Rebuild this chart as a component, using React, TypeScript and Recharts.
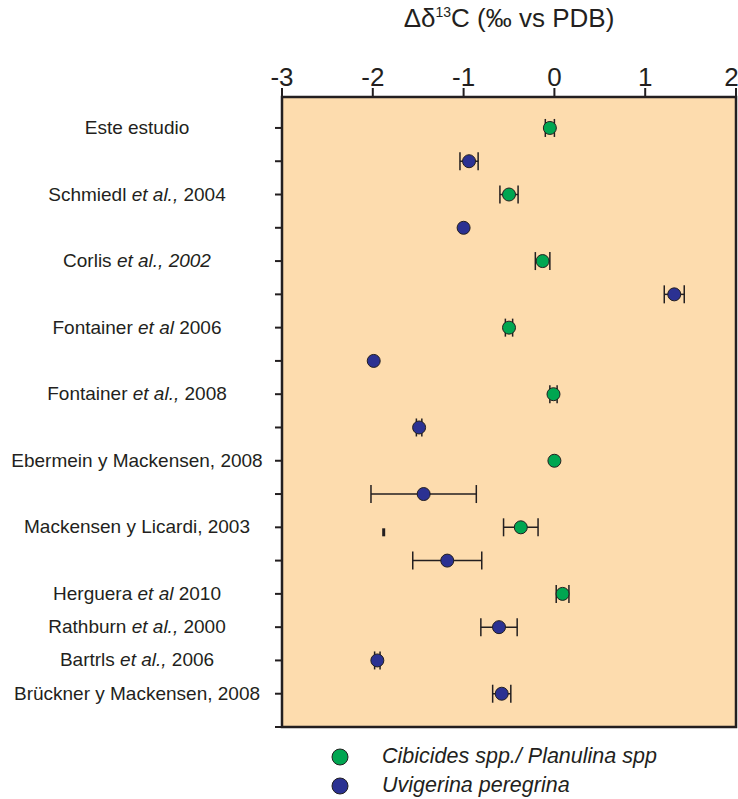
import React from "react";
import { ScatterChart, Scatter, XAxis, YAxis, ErrorBar, ReferenceArea } from "recharts";

// Study names (text between * is set in italics) and the row each one sits on
const studyLabels = [
  "Este estudio",
  "Schmiedl *et al.,* 2004",
  "Corlis *et al., 2002*",
  "Fontainer *et al* 2006",
  "Fontainer *et al.,* 2008",
  "Ebermein y Mackensen, 2008",
  "Mackensen y Licardi, 2003",
  "Herguera *et al* 2010",
  "Rathburn *et al.,* 2000",
  "Bartrls *et al.,* 2006",
  "Brückner y Mackensen, 2008",
];
const studyRows = [0, 2, 4, 6, 8, 10, 12, 14, 15, 16, 17];
const rowTicks = [0, 1, 2, 3, 4, 5, 6, 7, 8, 9, 10, 11, 12, 13, 14, 15, 16, 17, 18];
const deltaTicks = [-3, -2, -1, 0, 1, 2];

// Cibicides spp. / Planulina spp.
const cibicidesRows = [0, 2, 4, 6, 8, 10, 12, 14];
const cibicidesValues = [-0.05, -0.5, -0.13, -0.5, -0.01, 0.0, -0.37, 0.09];
const cibicidesErrors = [0.05, 0.1, 0.08, 0.04, 0.04, 0, 0.19, 0.07];

// Uvigerina peregrina
const uvigerinaRows = [1, 3, 5, 7, 9, 11, 13, 15, 16, 17];
const uvigerinaValues = [-0.94, -1.0, 1.32, -1.99, -1.49, -1.44, -1.18, -0.61, -1.95, -0.58];
const uvigerinaErrors = [0.1, 0, 0.11, 0, 0.03, 0.58, 0.38, 0.2, 0.03, 0.1];

// lone error-bar cap without a symbol
const strayRows = [12.15];
const strayValues = [-1.88];

const GREEN = "#00a651";
const BLUE = "#2b3192";
const INK = "#231f20";
const FONT = "'Liberation Sans', Arial, sans-serif";

const cibicides = cibicidesRows.map((row, i) => ({
  row,
  delta: cibicidesValues[i],
  err: cibicidesErrors[i],
}));
const uvigerina = uvigerinaRows.map((row, i) => ({
  row,
  delta: uvigerinaValues[i],
  err: uvigerinaErrors[i],
}));
const stray = strayRows.map((row, i) => ({ row, delta: strayValues[i] }));

function dot(fill: string) {
  return (props: any) => (
    <circle cx={props.cx} cy={props.cy} r={6.5} fill={fill} stroke={INK} strokeWidth={1} />
  );
}

function StrayMark(props: any) {
  return <rect x={props.cx - 1.5} y={props.cy - 4} width={3} height={8} fill={INK} />;
}

function StudyTick(props: any) {
  const { x, y, payload } = props;
  const i = studyRows.indexOf(payload.value);
  if (i < 0) return <g />;
  const parts = studyLabels[i].split("*");
  return (
    <text x={x - 136} y={y} dy={6} textAnchor="middle" fontSize={19} fill={INK} fontFamily={FONT}>
      {parts.map((p, k) => (
        <tspan key={k} fontStyle={k % 2 ? "italic" : "normal"}>
          {p}
        </tspan>
      ))}
    </text>
  );
}

function LegendRow({ color, text }: { color: string; text: string }) {
  return (
    <div style={{ display: "flex", alignItems: "center", height: 29 }}>
      <svg width={20} height={20} style={{ marginRight: 32 }}>
        <circle cx={10} cy={10} r={8} fill={color} stroke={INK} strokeWidth={1} />
      </svg>
      <span style={{ fontStyle: "italic", fontSize: 21.5, color: INK, fontFamily: FONT }}>{text}</span>
    </div>
  );
}

export default function App() {
  return (
    <div
      style={{
        position: "absolute",
        left: 0,
        top: 0,
        width: 738,
        height: 799,
        background: "#fff",
        fontFamily: FONT,
      }}
    >
      <div
        style={{
          position: "absolute",
          left: 282,
          width: 454,
          top: 3,
          textAlign: "center",
          fontSize: 26,
          color: INK,
        }}
      >
        Δδ<sup style={{ fontSize: 14 }}>13</sup>C (‰ vs PDB)
      </div>

      <ScatterChart width={738} height={799} margin={{ top: 57, right: 2, left: 0, bottom: 72 }}>
        <ReferenceArea
          x1={-3}
          x2={2}
          y1={-0.93}
          y2={18}
          fill="#fddcae"
          fillOpacity={1}
          stroke={INK}
          strokeWidth={2.5}
        />
        <XAxis
          type="number"
          dataKey="delta"
          orientation="top"
          domain={[-3, 2]}
          ticks={deltaTicks}
          height={40}
          axisLine={false}
          tickSize={9}
          tickMargin={2}
          tickLine={{ stroke: INK, strokeWidth: 2 }}
          tick={{ fontSize: 26, fill: INK, fontFamily: FONT }}
        />
        <YAxis
          type="number"
          dataKey="row"
          reversed
          domain={[-0.93, 18]}
          ticks={rowTicks}
          interval={0}
          width={282}
          axisLine={false}
          tickSize={7}
          tickMargin={2}
          tickLine={{ stroke: INK, strokeWidth: 2 }}
          tick={<StudyTick />}
        />
        <Scatter data={stray} shape={StrayMark} isAnimationActive={false} legendType="none" />
        <Scatter data={cibicides} shape={dot(GREEN)} isAnimationActive={false}>
          <ErrorBar dataKey="err" direction="x" width={9} stroke={INK} strokeWidth={1.5} />
        </Scatter>
        <Scatter data={uvigerina} shape={dot(BLUE)} isAnimationActive={false}>
          <ErrorBar dataKey="err" direction="x" width={9} stroke={INK} strokeWidth={1.5} />
        </Scatter>
      </ScatterChart>

      <div style={{ position: "absolute", left: 330, top: 742 }}>
        <LegendRow color={GREEN} text="Cibicides spp./ Planulina spp" />
        <LegendRow color={BLUE} text="Uvigerina peregrina" />
      </div>
    </div>
  );
}
